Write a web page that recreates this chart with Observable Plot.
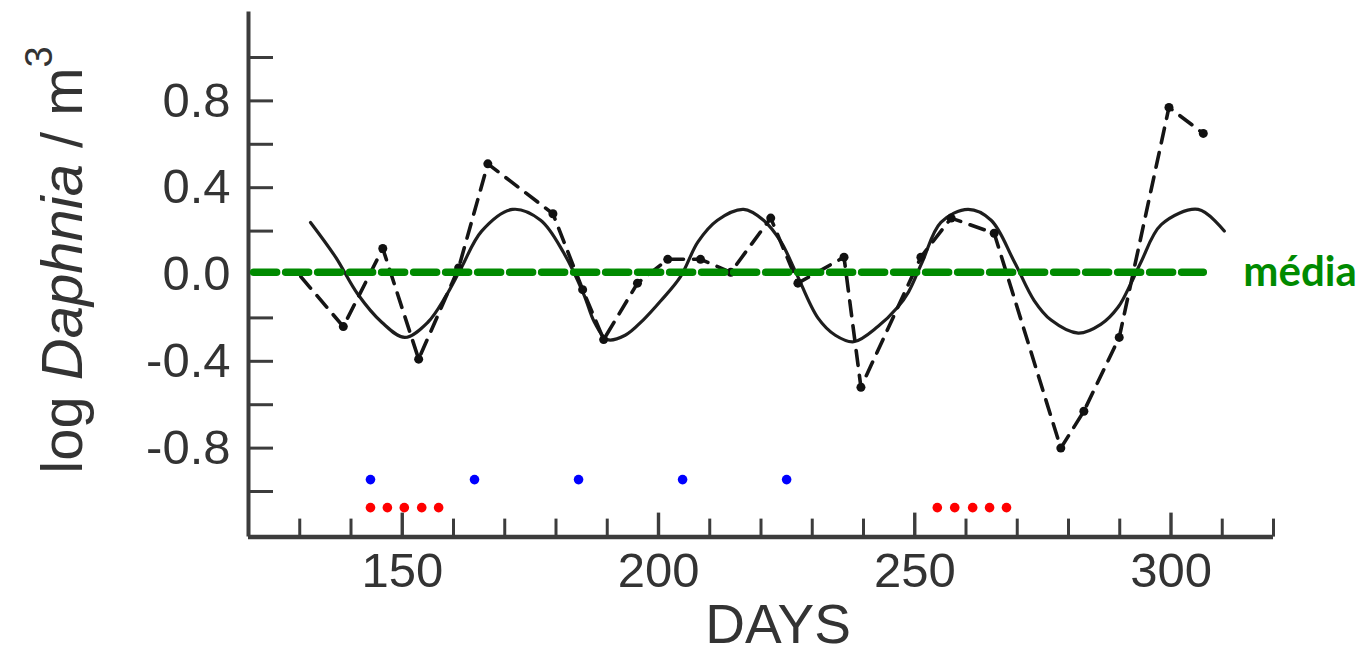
<!DOCTYPE html>
<html>
<head>
<meta charset="utf-8">
<script src="https://cdn.jsdelivr.net/npm/d3@7"></script>
<script src="https://cdn.jsdelivr.net/npm/@observablehq/plot@0.6"></script>
<style>
  body { margin: 0; background: #fff; }
</style>
</head>
<body>
<div id="chart"></div>
<script>
// ---- data ----
// fitted (solid) curve
const fitDays   = [132.1, 137.0, 141.3, 146.0, 150.5, 155.0, 158.5, 161.5, 165.5, 171.5, 177.0, 181.5, 185.4, 187.5, 190.0, 193.5, 197.0, 200.5, 204.3, 207.7, 211.5, 216.6, 220.5, 223.9, 226.8, 231.1, 234.5, 238.1, 242.8, 246.7, 248.8, 251.5, 255.1, 260.4, 264.9, 269.4, 273.3, 276.6, 281.9, 286.3, 289.7, 292.2, 294.2, 298.1, 305.3, 310.4];
const fitValues = [0.24, 0.08, -0.09, -0.22, -0.29, -0.22, -0.10, 0.03, 0.20, 0.30, 0.25, 0.10, -0.09, -0.22, -0.30, -0.28, -0.21, -0.12, -0.01, 0.15, 0.25, 0.30, 0.25, 0.15, 0.01, -0.20, -0.28, -0.31, -0.24, -0.15, -0.08, 0.06, 0.24, 0.30, 0.25, 0.06, -0.12, -0.21, -0.27, -0.23, -0.15, -0.04, 0.06, 0.23, 0.30, 0.20];
// observed (dashed) series
const obsDays   = [130.2, 138.5, 146.2, 153.2, 161.0, 166.7, 179.4, 185.2, 189.3, 195.9, 201.8, 208.2, 214.1, 221.9, 227.2, 236.2, 239.5, 251.2, 257.1, 265.5, 278.5, 283.0, 289.9, 299.6, 306.3];
const obsValues = [-0.01, -0.24, 0.12, -0.39, 0.03, 0.51, 0.28, -0.07, -0.30, -0.04, 0.07, 0.07, 0.01, 0.26, -0.04, 0.08, -0.52, 0.08, 0.26, 0.19, -0.80, -0.63, -0.29, 0.77, 0.65];
// mean line
const meanDays  = [121.0, 306.3];
const meanValue = 0.01;
const meanLabel = "média";
// blue and red markers
const blueDays  = [143.8, 164.1, 184.4, 204.7, 225.0];
const blueValue = -0.945;
const redDays   = [143.8, 147.1, 150.4, 153.8, 157.1, 254.4, 257.8, 261.3, 264.6, 267.9];
const redValue  = -1.074;
// ticks
const xTickLabels = [150, 200, 250, 300];
const xMinorTicks = [130, 140, 160, 170, 180, 190, 210, 220, 230, 240, 260, 270, 280, 290, 310, 320];
const yTickLabels = [-0.8, -0.4, 0.0, 0.4, 0.8];
const yMinorTicks = [-1.0, -0.8, -0.6, -0.4, -0.2, 0.2, 0.4, 0.6, 0.8, 1.0];
const xDomain = [120, 320];
const yDomain = [-1.21, 1.21];

// ---- layout ----
const W = 1370, H = 657;
const mL = 248, mR = 97, mT = 11.4, mB = 120.4;
const frameW = W - mL - mR, frameH = H - mT - mB;
const axisColor = "#3c3c3c";
const font = "'Liberation Sans', Arial, Helvetica, sans-serif";

const fit = fitDays.map((d, i) => ({day: d, v: fitValues[i]}));
const obs = obsDays.map((d, i) => ({day: d, v: obsValues[i]}));
const blue = blueDays.map(d => ({day: d, v: blueValue}));
const red = redDays.map(d => ({day: d, v: redValue}));
const mean = meanDays.map(d => ({day: d, v: meanValue}));

const plot = Plot.plot({
  width: W, height: H,
  marginLeft: mL, marginRight: mR, marginTop: mT, marginBottom: mB,
  x: {domain: xDomain},
  y: {domain: yDomain},
  style: {fontFamily: font, background: "#fff", overflow: "visible"},
  marks: [
    // axis tick labels
    Plot.axisX(xTickLabels, {tickSize: 0, tickPadding: 15, fontSize: 49, color: "#333", label: null, tickFormat: d => String(d)}),
    Plot.axisY(yTickLabels, {tickSize: 0, tickPadding: 18, fontSize: 49, color: "#333", label: null, tickFormat: d => d.toFixed(1)}),
    // inward ticks
    Plot.tickX(xMinorTicks, {x: d => d, insetTop: frameH - 18, stroke: axisColor, strokeWidth: 3}),
    Plot.tickX(xTickLabels, {x: d => d, insetTop: frameH - 24, stroke: axisColor, strokeWidth: 3.4}),
    Plot.tickY(yMinorTicks, {y: d => d, insetRight: frameW - 25, stroke: axisColor, strokeWidth: 3}),
    // axis lines
    Plot.ruleY([yDomain[0]], {stroke: axisColor, strokeWidth: 4.5}),
    Plot.ruleX([xDomain[0]], {stroke: axisColor, strokeWidth: 4}),
    // fitted curve
    Plot.line(fit, {x: "day", y: "v", curve: "catmull-rom", stroke: "#1e1e1e", strokeWidth: 3.2}),
    // observed
    Plot.line(obs, {x: "day", y: "v", stroke: "#151515", strokeWidth: 3.6, strokeDasharray: "15,10"}),
    Plot.dot(obs.slice(1), {x: "day", y: "v", r: 4.5, fill: "#111", stroke: "none"}),
    // mean line
    Plot.line(mean, {x: "day", y: "v", stroke: "#008a00", strokeWidth: 7.5, strokeDasharray: "23,9"}),
    Plot.text([meanLabel], {x: meanDays[1], y: meanValue, dx: 40, text: d => d, textAnchor: "start", lineAnchor: "middle", fontSize: 42, fontWeight: "bold", fill: "#008a00", fontFamily: "Lato, 'Open Sans', sans-serif"}),
    // markers
    Plot.dot(blue, {x: "day", y: "v", r: 4.8, fill: "#0000ff", stroke: "none"}),
    Plot.dot(red, {x: "day", y: "v", r: 4.8, fill: "#ff0000", stroke: "none"}),
    // x title
    Plot.text(["DAYS"], {frameAnchor: "bottom", text: d => d, dx: 17, dy: 88, lineAnchor: "middle", fontSize: 55, fill: "#333"})
  ]
});

// y title with italic genus and superscript
const svg = d3.select(plot);
const t = svg.append("text")
  .attr("transform", "translate(82,260) rotate(-90)")
  .attr("text-anchor", "middle")
  .attr("font-family", font)
  .attr("font-size", 58)
  .attr("fill", "#333");
t.append("tspan").text("log ");
t.append("tspan").attr("font-style", "italic").text("Daphnia");
t.append("tspan").text(" / m");
t.append("tspan").attr("font-size", 38).attr("dy", -30).text("3");

document.getElementById("chart").appendChild(plot);
</script>
</body>
</html>
